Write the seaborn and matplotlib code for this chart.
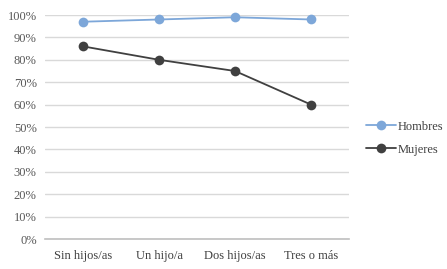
import pandas as pd
import numpy as np
import matplotlib
matplotlib.use('Agg')
import matplotlib.pyplot as plt
import seaborn as sns
from matplotlib.ticker import PercentFormatter

# data
categorias = ['Sin hijos/as', 'Un hijo/a', 'Dos hijos/as', 'Tres o más']
hombres = [0.97, 0.98, 0.99, 0.98]
mujeres = [0.86, 0.80, 0.75, 0.60]

df = pd.DataFrame({
    'categoria': categorias * 2,
    'valor': hombres + mujeres,
    'sexo': ['Hombres'] * 4 + ['Mujeres'] * 4,
})

sns.set_style('white')
plt.rcParams['font.family'] = ['Liberation Serif', 'DejaVu Serif']

fig = plt.figure(figsize=(4.47, 2.69), dpi=100)
ax = fig.add_axes([0.1007, 0.1115, 0.6801, 0.8327])

palette = {'Hombres': '#7DA7D9', 'Mujeres': '#404040'}
sns.lineplot(data=df, x='categoria', y='valor', hue='sexo', palette=palette,
             marker='o', markersize=7, markeredgewidth=0, linewidth=1.3,
             sort=False, ax=ax, clip_on=False, zorder=3)

ax.set_ylim(0, 1)
ax.set_xlim(-0.5, 3.5)
ax.yaxis.set_major_locator(plt.MultipleLocator(0.1))
ax.yaxis.set_major_formatter(PercentFormatter(1.0, decimals=0))
ax.grid(axis='y', color='#D9D9D9', linewidth=1)
ax.set_axisbelow(True)
for s in ['top', 'right', 'left']:
    ax.spines[s].set_visible(False)
ax.spines['bottom'].set_color('#BFBFBF')
ax.spines['bottom'].set_linewidth(1.2)
ax.tick_params(axis='both', length=0, labelsize=9, colors='#595959')
ax.tick_params(axis='x', pad=8, colors='#404040')
ax.tick_params(axis='y', pad=6)
ax.set_xlabel('')
ax.set_ylabel('')

leg = ax.legend(loc='center left', bbox_to_anchor=(1.02, 0.45), frameon=False,
                fontsize=9, handlelength=2.4, handletextpad=0.1,
                labelspacing=0.9)
for t in leg.get_texts():
    t.set_color('#404040')

fig.savefig('out.png', dpi=100)
